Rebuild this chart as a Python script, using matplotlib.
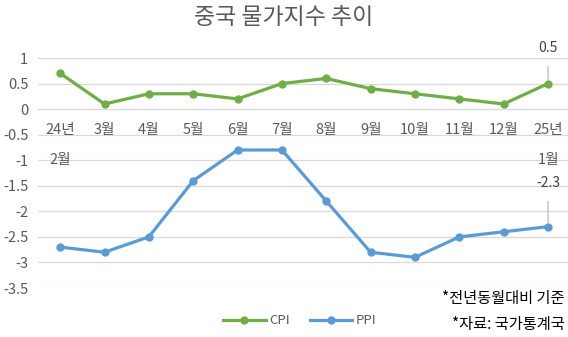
import matplotlib.pyplot as plt

plt.rcParams['font.family'] = ['Noto Sans CJK KR', 'DejaVu Sans']

# 데이터
months_top = ["24년", "3월", "4월", "5월", "6월", "7월", "8월", "9월", "10월", "11월", "12월", "25년"]
months_bottom = ["2월", "", "", "", "", "", "", "", "", "", "", "1월"]
cpi = [0.7, 0.1, 0.3, 0.3, 0.2, 0.5, 0.6, 0.4, 0.3, 0.2, 0.1, 0.5]
ppi = [-2.7, -2.8, -2.5, -1.4, -0.8, -0.8, -1.8, -2.8, -2.9, -2.5, -2.4, -2.3]
yticks = [1, 0.5, 0, -0.5, -1, -1.5, -2, -2.5, -3, -3.5]

fig = plt.figure(figsize=(5.68, 3.37), dpi=100)
ax = fig.add_axes([38/568, 1 - 288/337, 530/568, 230/337])

x = list(range(len(cpi)))
ax.plot(x, cpi, color='#70AD47', lw=2.3, marker='o', ms=5, label='CPI')
ax.plot(x, ppi, color='#5B9BD5', lw=2.3, marker='o', ms=5, label='PPI')

ax.set_xlim(-0.5, 11.45)
ax.set_ylim(-3.5, 1)
ax.set_yticks(yticks)
ax.set_yticklabels([f"{v:g}" for v in yticks], fontsize=10.5, color='#595959')
ax.grid(axis='y', color='#D9D9D9', lw=0.9)
ax.set_axisbelow(True)
ax.tick_params(axis='y', length=0, pad=7)
ax.set_xticks([])
for s in ax.spines.values():
    s.set_visible(False)

# 범주 라벨 (0 선 아래)
for i in x:
    ax.text(i, -0.41, months_top[i], ha='center', va='center', fontsize=10.5, color='#595959')
    if months_bottom[i]:
        ax.text(i, -1.0, months_bottom[i], ha='center', va='center', fontsize=10.5, color='#595959')

# 마지막 값 라벨
last = len(cpi) - 1
ax.annotate(f"{cpi[last]:g}", xy=(last, cpi[last]), xytext=(last, cpi[last] + 0.69),
            ha='center', va='center', fontsize=10, color='#404040',
            arrowprops=dict(arrowstyle='-', color='#A6A6A6', lw=0.7, shrinkA=6, shrinkB=3))
ax.annotate(f"{ppi[last]:g}", xy=(last, ppi[last]), xytext=(last, ppi[last] + 0.85),
            ha='center', va='center', fontsize=10, color='#404040',
            arrowprops=dict(arrowstyle='-', color='#A6A6A6', lw=0.7, shrinkA=6, shrinkB=3))

fig.text(0.5, 1 - 18/337, "중국 물가지수 추이", ha='center', va='center', fontsize=16.5, color='#595959')

ax.legend(loc='center', bbox_to_anchor=(300/568, 1 - 321/337), bbox_transform=fig.transFigure,
          ncol=2, frameon=False, fontsize=9.5, handlelength=3.2, columnspacing=1.5,
          labelcolor='#595959', handletextpad=0.3)

fig.text(565/568, 1 - 298/337, "*전년동월대비 기준", ha='right', va='center', fontsize=11, color='black')
fig.text(565/568, 1 - 325/337, "*자료: 국가통계국", ha='right', va='center', fontsize=11, color='black')

fig.savefig("out.png", dpi=100)
